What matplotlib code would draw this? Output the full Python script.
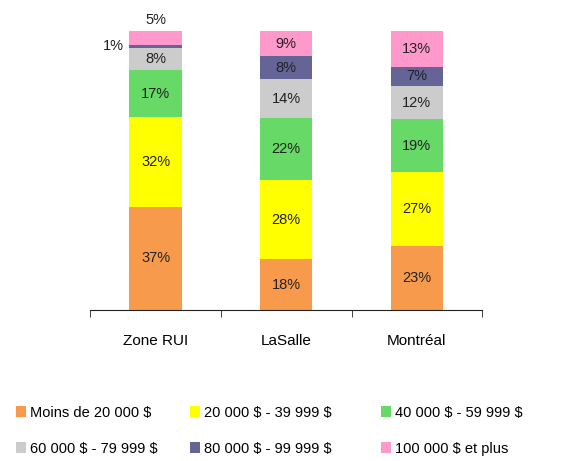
import numpy as np
import matplotlib.pyplot as plt

plt.rcParams['font.family'] = ['Liberation Sans', 'DejaVu Sans']
plt.rcParams['text.parse_math'] = False

# Income distribution per territory (%)
territories = ['Zone RUI', 'LaSalle', 'Montréal']
brackets = ['Moins de 20 000 $', '20 000 $ - 39 999 $', '40 000 $ - 59 999 $',
            '60 000 $ - 79 999 $', '80 000 $ - 99 999 $', '100 000 $ et plus']
moins_20k = [37, 18, 23]
de_20k_40k = [32, 28, 27]
de_40k_60k = [17, 22, 19]
de_60k_80k = [8, 14, 12]
de_80k_100k = [1, 8, 7]
plus_100k = [5, 9, 13]

series = [moins_20k, de_20k_40k, de_40k_60k, de_60k_80k, de_80k_100k, plus_100k]
colors = ['#F79A4C', '#FFFF00', '#66D966', '#CCCCCC', '#646496', '#FF99CC']

fig = plt.figure(figsize=(5.64, 4.61), dpi=100)
ax = fig.add_axes([0.160, 0.3275, 0.695, 0.6055])

x = np.arange(len(territories))
# 100% stacked: each column scaled to its own total
totals = np.sum(np.array(series, dtype=float), axis=0)
bottom = np.zeros(len(territories))
handles = []
for vals, col, lab in zip(series, colors, brackets):
    raw = np.array(vals, dtype=float)
    h = raw / totals * 100
    b = ax.bar(x, h, width=0.40, bottom=bottom, color=col, label=lab)
    handles.append(b)
    for i, (xi, v, hv, b0) in enumerate(zip(x, raw, h, bottom)):
        if v < 3:
            # thin segment: label to the left of the bar
            ax.text(xi - 0.32, b0 + hv / 2, f'{int(v)}%', ha='center', va='center',
                    fontsize=10.5, color='#222222')
        elif i == 0 and lab == brackets[-1]:
            # top segment too small for its label: put it above the bar
            ax.text(xi, b0 + hv + 4, f'{int(v)}%', ha='center', va='center',
                    fontsize=10.5, color='#222222')
        else:
            ax.text(xi, b0 + hv / 2, f'{int(v)}%', ha='center', va='center',
                    fontsize=10.5, color='#222222')
    bottom += h

ax.set_xlim(-0.5, 2.5)
ax.set_ylim(0, 100)
for s in ['top', 'right', 'left']:
    ax.spines[s].set_visible(False)
ax.spines['bottom'].set_color('#222222')
ax.set_yticks([])
ax.set_xticks(x)
ax.set_xticklabels(territories, fontsize=11)
ax.tick_params(axis='x', which='major', length=0, pad=17)
ax.set_xticks([-0.5, 0.5, 1.5, 2.5], minor=True)
ax.tick_params(axis='x', which='minor', length=5, direction='out', color='#222222')

# legend: three columns of two entries
col_x = [0.028, 0.337, 0.675]
for c, cx in enumerate(col_x):
    idx = [c, c + 3]
    fig.legend([handles[i] for i in idx], [brackets[i] for i in idx],
               loc='upper left', bbox_to_anchor=(cx, 0.12),
               frameon=False, fontsize=10.5, handlelength=0.7, handleheight=0.7,
               handletextpad=0.25, labelspacing=1.5, borderaxespad=0,
               borderpad=0)

fig.savefig('out.png', dpi=100)
